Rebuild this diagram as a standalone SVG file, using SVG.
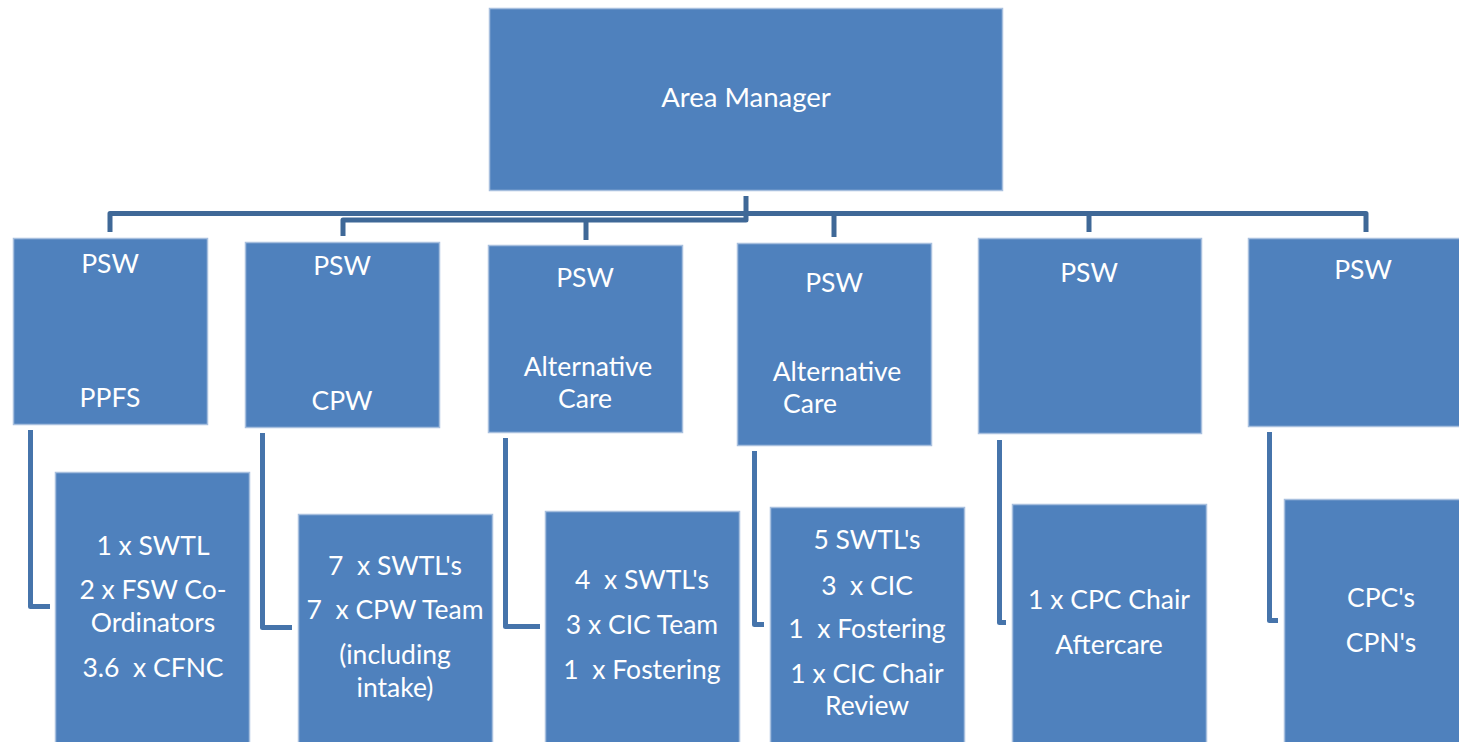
<svg xmlns="http://www.w3.org/2000/svg" width="1459" height="742" viewBox="0 0 1459 742">
<style>
.box{fill:#4F81BD;stroke:#A7BFDE;stroke-width:1.5}
.t{font-family:Lato,"Liberation Sans",sans-serif;font-size:26.5px;fill:#FFFFFF;text-anchor:middle}
.top{fill:none;stroke:#3F6897;stroke-width:5;stroke-linejoin:round}
.el{fill:none;stroke:#4674AB;stroke-width:5;stroke-linejoin:round}
</style>
<rect width="1459" height="742" fill="#FFFFFF"/>
<g id="connectors">
<path class="top" d="M746,196 V214"/>
<path class="top" d="M110,232 V213.5 H1366 V232"/>
<path class="top" d="M746,214 V220 H343 V236"/>
<path class="top" d="M586,220 V240"/>
<path class="top" d="M834,214 V237"/>
<path class="top" d="M1089,214 V232"/>
<path class="el" d="M30.5,430 V606.5 H50"/>
<path class="el" d="M262.5,433 V627.5 H292"/>
<path class="el" d="M505.5,438 V626.5 H540"/>
<path class="el" d="M754.5,451 V624.5 H764"/>
<path class="el" d="M999.5,440 V622.5 H1006"/>
<path class="el" d="M1269.5,432 V620.5 H1278"/>
</g>
<g id="area-manager"><rect class="box" x="489.5" y="8.5" width="513" height="182"/><text class="t" x="746" y="107" style="font-size:27.5px">Area Manager</text></g>
<g id="psw1"><rect class="box" x="13.5" y="238.5" width="194" height="186"/><text class="t" x="110" y="273">PSW</text><text class="t" x="110" y="407">PPFS</text></g>
<g id="psw2"><rect class="box" x="245.5" y="242.5" width="194" height="185"/><text class="t" x="342" y="275">PSW</text><text class="t" x="342" y="410">CPW</text></g>
<g id="psw3"><rect class="box" x="488.5" y="245.5" width="194" height="187"/><text class="t" x="585" y="287">PSW</text><text class="t" x="588" y="376">Alternative</text><text class="t" x="585" y="408">Care</text></g>
<g id="psw4"><rect class="box" x="737.5" y="243.5" width="194" height="202"/><text class="t" x="834" y="292">PSW</text><text class="t" x="837" y="381">Alternative</text><text class="t" x="810" y="413">Care</text></g>
<g id="psw5"><rect class="box" x="978.5" y="238.5" width="223" height="195"/><text class="t" x="1089" y="282">PSW</text></g>
<g id="psw6"><rect class="box" x="1248.5" y="238.5" width="215" height="188"/><text class="t" x="1363" y="279">PSW</text></g>
<g id="team1"><rect class="box" x="55.5" y="472.5" width="194" height="275"/><text class="t" x="153" y="555">1 x SWTL</text><text class="t" x="153" y="599">2 x FSW Co-</text><text class="t" x="153" y="632">Ordinators</text><text class="t" x="153" y="677" xml:space="preserve">3.6  x CFNC</text></g>
<g id="team2"><rect class="box" x="298.5" y="514.5" width="194" height="233"/><text class="t" x="395" y="575" xml:space="preserve">7  x SWTL's</text><text class="t" x="395" y="619" xml:space="preserve">7  x CPW Team</text><text class="t" x="395" y="664">(including</text><text class="t" x="395" y="697">intake)</text></g>
<g id="team3"><rect class="box" x="545.5" y="511.5" width="194" height="236"/><text class="t" x="642" y="589" xml:space="preserve">4  x SWTL's</text><text class="t" x="642" y="634">3 x CIC Team</text><text class="t" x="642" y="679" xml:space="preserve">1  x Fostering</text></g>
<g id="team4"><rect class="box" x="770.5" y="507.5" width="194" height="240"/><text class="t" x="867" y="549">5 SWTL's</text><text class="t" x="867" y="595" xml:space="preserve">3  x CIC</text><text class="t" x="867" y="638" xml:space="preserve">1  x Fostering</text><text class="t" x="867" y="683">1 x CIC Chair</text><text class="t" x="867" y="715">Review</text></g>
<g id="team5"><rect class="box" x="1012.5" y="504.5" width="194" height="243"/><text class="t" x="1109" y="609">1 x CPC Chair</text><text class="t" x="1109" y="654">Aftercare</text></g>
<g id="team6"><rect class="box" x="1284.5" y="499.5" width="180" height="248"/><text class="t" x="1381" y="607">CPC's</text><text class="t" x="1381" y="652">CPN's</text></g>
</svg>
